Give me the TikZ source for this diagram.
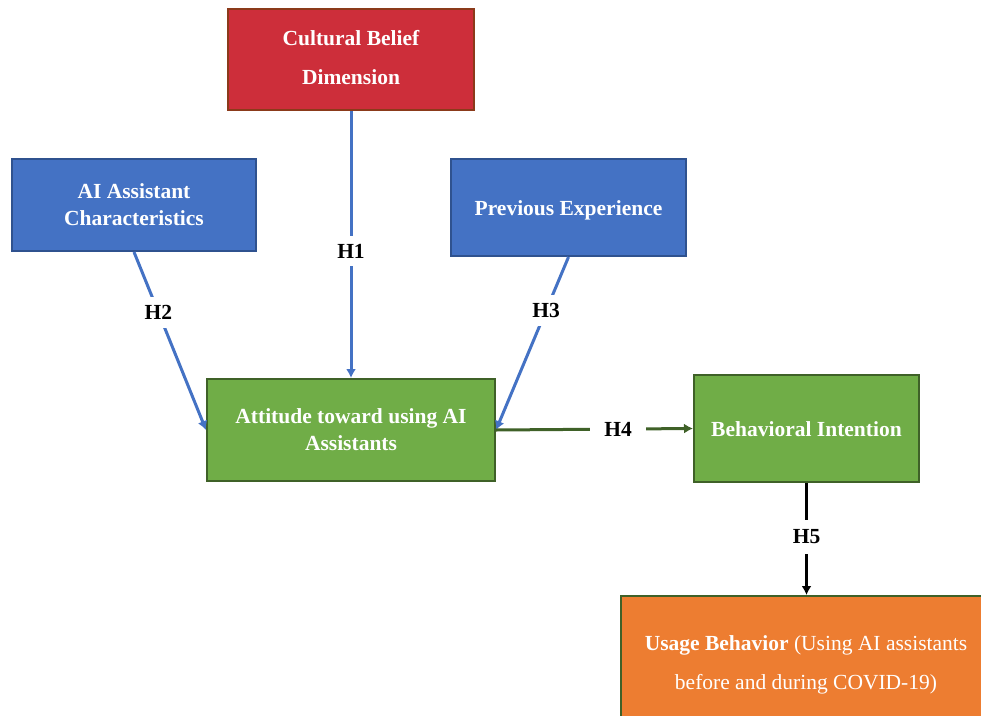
\documentclass[tikz,border=0pt]{standalone}
\usepackage{fontspec}
\setmainfont{Liberation Serif}
\usetikzlibrary{arrows.meta}
\definecolor{cred}{HTML}{CD2E3A}
\definecolor{credb}{HTML}{8B3A1A}
\definecolor{cblue}{HTML}{4472C4}
\definecolor{cblueb}{HTML}{2F528F}
\definecolor{cgreen}{HTML}{70AD47}
\definecolor{cgreenb}{HTML}{3F6128}
\definecolor{corange}{HTML}{ED7D31}
\newcommand{\shifttext}[2]{\raisebox{#1}[\height][\depth]{#2}}
\begin{document}
\begin{tikzpicture}[x=1pt,y=-1pt,
  box/.style={draw, line width=2pt, inner sep=0pt, align=center, text=white,
    font=\bfseries\fontsize{21.5}{27}\selectfont},
  redbox/.style={box, fill=cred, draw=credb},
  bluebox/.style={box, fill=cblue, draw=cblueb},
  greenbox/.style={box, fill=cgreen, draw=cgreenb},
  orangebox/.style={box, fill=corange, draw=cgreenb},
  lab/.style={fill=white, text=black, inner xsep=10pt, inner ysep=8pt,
    font=\bfseries\fontsize{21.5}{26}\selectfont},
  tip/.style={-{Latex[length=9pt,width=10pt]}},
  bluearrow/.style={draw=cblue, line width=3pt, tip},
  greenarrow/.style={draw=cgreenb, line width=3pt, tip},
  blackarrow/.style={draw=black, line width=3pt, tip}
]
\useasboundingbox (0,0) rectangle (981,715);
\node[redbox, minimum width=246pt, minimum height=101pt, font=\bfseries\fontsize{21.5}{39}\selectfont] (cult) at (351,59.5) {\shifttext{2pt}{Cultural Belief}\\\shifttext{2pt}{Dimension}};
\node[bluebox, minimum width=244pt, minimum height=92pt] (ai) at (134,205) {AI Assistant\\Characteristics};
\node[bluebox, minimum width=235pt, minimum height=97pt] (prev) at (568.5,207.5) {\shifttext{-3pt}{Previous Experience}};
\node[greenbox, minimum width=288pt, minimum height=102pt] (att) at (351,430) {Attitude toward using AI\\Assistants};
\node[greenbox, minimum width=225pt, minimum height=107pt] (beh) at (806.5,428.5) {\shifttext{-1pt}{Behavioral Intention}};
\node[orangebox, minimum width=370pt, minimum height=130pt, font=\fontsize{21.5}{39}\selectfont] (use) at (806,661) {\shifttext{-4pt}{\textbf{Usage Behavior} (Using AI assistants}\\\shifttext{-4pt}{before and during COVID-19)}};

\draw[bluearrow] (cult.south) -- node[lab, pos=0.524] {H1} (att.north);
\draw[bluearrow] (ai.south) -- node[lab, pos=0.34] {H2} (att.west);
\draw[bluearrow] (prev.south) -- node[lab, pos=0.31] {H3} (att.east);
\draw[greenarrow] (att.east) -- node[lab, pos=0.62, inner xsep=14pt] {H4} (beh.west);
\draw[blackarrow] (beh.south) -- node[lab, pos=0.48, inner ysep=10pt] {H5} (beh.south |- use.north);
\end{tikzpicture}
\end{document}
